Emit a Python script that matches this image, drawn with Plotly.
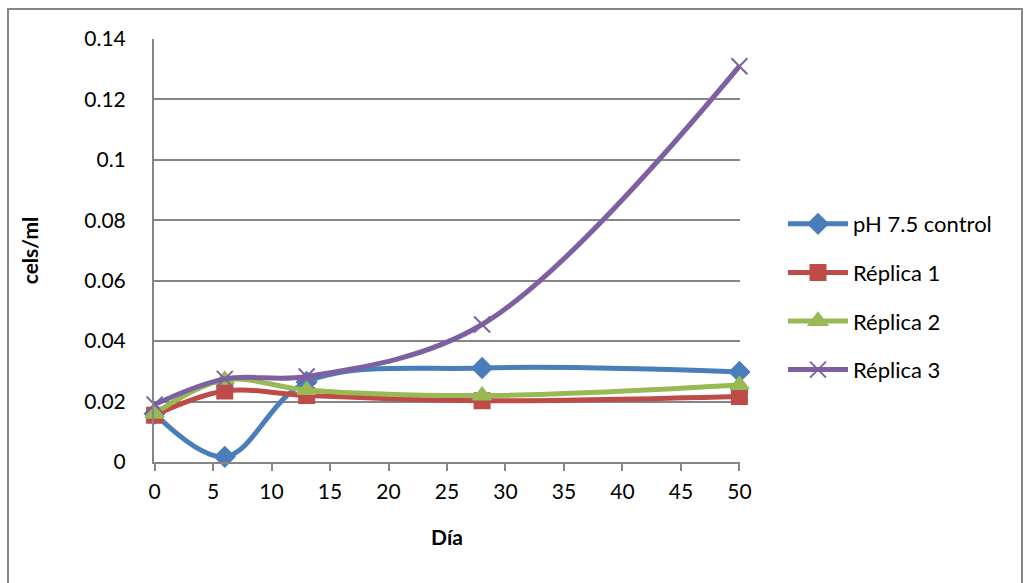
import plotly.graph_objects as go

dias = [0, 6, 13, 28, 50]
control = [0.0160, 0.0017, 0.0265, 0.0311, 0.0298]
replica1 = [0.0155, 0.0235, 0.0220, 0.0203, 0.0217]
replica2 = [0.0160, 0.0272, 0.0238, 0.0220, 0.0255]
replica3 = [0.0190, 0.0275, 0.0283, 0.0455, 0.1310]

series = [
    ("pH 7.5 control", control, "#4A7EBB", "diamond", 15),
    ("Réplica 1", replica1, "#BE4B48", "square", 15),
    ("Réplica 2", replica2, "#98B954", "triangle-up", 16),
    ("Réplica 3", replica3, "#7D60A0", "x-thin", 16),
]

FONT = "Lato, 'Open Sans', sans-serif"

fig = go.Figure()
for i, (name, vals, color, symbol, size) in enumerate(series):
    fig.add_trace(go.Scatter(
        x=dias, y=vals, name=name, mode="lines+markers",
        legendgroup=f"g{i}", cliponaxis=False,
        line=dict(color=color, width=5, shape="spline", smoothing=1.0),
        marker=dict(symbol=symbol, size=size, color=color,
                    line=dict(color=color, width=2)),
    ))

W, H = 1030, 583
L, R, T, B = 154, 290, 39, 121
pw, ph = W - L - R, H - T - B

def px(x):
    return (x - L) / pw

def py(y):
    return (H - B - y) / ph

fig.update_layout(
    width=W, height=H,
    margin=dict(l=L, r=R, t=T, b=B),
    paper_bgcolor="white", plot_bgcolor="white",
    font=dict(family=FONT, size=21, color="black"),
    showlegend=True,
    legend=dict(x=px(783), y=py(203), xanchor="left", yanchor="top",
                font=dict(size=22), itemwidth=60, tracegroupgap=17,
                bgcolor="rgba(0,0,0,0)"),
    xaxis=dict(range=[-0.05, 50.05], tickvals=list(range(0, 55, 5)),
               showgrid=False, zeroline=False,
               showline=True, linecolor="#868686", linewidth=2,
               ticks="outside", ticklen=7, tickcolor="#868686", tickwidth=2,
               ticklabelstandoff=3,
               title=dict(text="<b>Día</b>", font=dict(size=21), standoff=28)),
    yaxis=dict(range=[0, 0.14], tickvals=[0, 0.02, 0.04, 0.06, 0.08, 0.1, 0.12, 0.14],
               ticktext=["0", "0.02", "0.04", "0.06", "0.08", "0.1", "0.12", "0.14"],
               showgrid=True, gridcolor="#868686", gridwidth=1.5, zeroline=False,
               showline=True, linecolor="#868686", linewidth=2,
               ticks="", ticklabelstandoff=22,
               title=dict(text="<b>cels/ml</b>", font=dict(size=21), standoff=40)),
    shapes=[dict(type="rect", xref="paper", yref="paper",
                 x0=px(8), x1=px(1022), y0=py(600), y1=py(9),
                 line=dict(color="#868686", width=2), layer="below")],
)

fig.write_html("out.html")
